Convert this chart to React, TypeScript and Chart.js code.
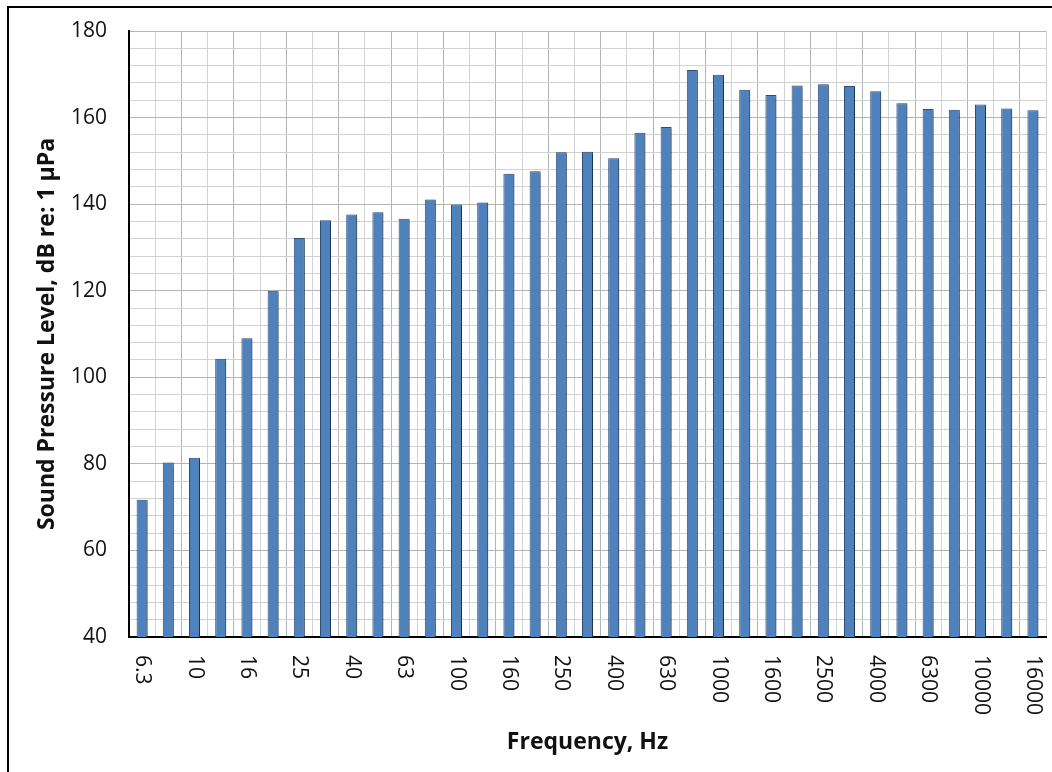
import React, { useEffect, useRef } from "react";
import { Chart, registerables } from "chart.js";

Chart.register(...registerables);

const frequencies = [
  "6.3", "8", "10", "12.5", "16", "20", "25", "31.5", "40", "50", "63", "80",
  "100", "125", "160", "200", "250", "315", "400", "500", "630", "800",
  "1000", "1250", "1600", "2000", "2500", "3150", "4000", "5000", "6300",
  "8000", "10000", "12500", "16000",
];

const splLevels = [
  71.7, 80.3, 81.4, 104.3, 109.0, 120.0, 132.2, 136.3, 137.6, 138.1, 136.6,
  141.1, 139.9, 140.4, 147.0, 147.6, 152.0, 152.1, 150.6, 156.5, 157.8, 171.0,
  169.9, 166.4, 165.2, 167.4, 167.7, 167.3, 166.1, 163.3, 162.0, 161.8, 163.0,
  162.1, 161.7,
];

const yMin = 40;
const yMax = 180;
const yStep = 4;
const yLabelStep = 20;

const xTitle = "Frequency, Hz";
const yTitle = "Sound Pressure Level, dB re: 1 µPa";

const FONT = "'Open Sans', 'Liberation Sans', sans-serif";

const shadowPlugin = {
  id: "barShadow",
  beforeDatasetsDraw(chart: any) {
    const ctx = chart.ctx;
    ctx.save();
    ctx.shadowColor = "rgba(0,0,0,0.35)";
    ctx.shadowOffsetX = 2;
    ctx.shadowOffsetY = 1;
    ctx.shadowBlur = 2;
  },
  afterDatasetsDraw(chart: any) {
    chart.ctx.restore();
  },
};

const textPlugin = {
  id: "customText",
  afterDraw(chart: any) {
    const ctx = chart.ctx;
    const xs = chart.scales.x;
    const area = chart.chartArea;
    ctx.save();
    ctx.fillStyle = "#111";
    ctx.font = `21px ${FONT}`;
    ctx.textAlign = "left";
    ctx.textBaseline = "middle";
    frequencies.forEach((lab, i) => {
      if (i % 2 !== 0) return;
      const x = xs.getPixelForValue(i);
      ctx.save();
      ctx.translate(x, area.bottom + 18);
      ctx.rotate(Math.PI / 2);
      ctx.fillText(lab, 0, 0);
      ctx.restore();
    });
    ctx.font = `bold 23px ${FONT}`;
    ctx.textAlign = "center";
    ctx.textBaseline = "middle";
    ctx.fillText(xTitle, (area.left + area.right) / 2, 734);
    ctx.save();
    ctx.translate(38, (area.top + area.bottom) / 2);
    ctx.rotate(-Math.PI / 2);
    ctx.fillText(yTitle, 0, 0);
    ctx.restore();
    ctx.restore();
  },
};

export default function App() {
  const ref = useRef<HTMLCanvasElement | null>(null);

  useEffect(() => {
    if (!ref.current) return;
    const chart = new Chart(ref.current, {
      type: "bar",
      data: {
        labels: frequencies,
        datasets: [
          {
            data: splLevels,
            backgroundColor: "#4F81BD",
            borderColor: "#2F4F78",
            borderWidth: 1,
            barPercentage: 0.42,
            categoryPercentage: 1.0,
          },
        ],
      },
      options: {
        responsive: false,
        animation: false,
        devicePixelRatio: 1,
        layout: { padding: { top: 23, right: 6, left: 0, bottom: 0 } },
        plugins: {
          legend: { display: false },
          tooltip: { enabled: false },
          title: { display: false },
        },
        scales: {
          x: {
            offset: true,
            ticks: { display: false, autoSkip: false },
            grid: {
              offset: true,
              drawTicks: false,
              color: (c: any) => (c.index % 2 === 0 ? "#b4b4b4" : "#d2d2d2"),
              lineWidth: 1,
            },
            border: { display: true, color: "#000", width: 2 },
            afterFit: (s: any) => {
              s.height = 135;
              s.paddingLeft = 0;
              s.paddingRight = 0;
            },
          },
          y: {
            min: yMin,
            max: yMax,
            ticks: {
              stepSize: yStep,
              autoSkip: false,
              padding: 22,
              color: "#111",
              font: { family: FONT, size: 21 },
              callback: (v: any) => (Number(v) % yLabelStep === 0 ? String(v) : ""),
            },
            grid: {
              drawTicks: false,
              color: (c: any) =>
                c.tick && Number(c.tick.value) % yLabelStep === 0 ? "#b4b4b4" : "#d2d2d2",
              lineWidth: 1,
            },
            border: { display: true, color: "#000", width: 2 },
            afterFit: (s: any) => {
              s.width = 120;
              s.paddingTop = 0;
              s.paddingBottom = 0;
            },
          },
        },
      },
      plugins: [shadowPlugin, textPlugin],
    });
    return () => chart.destroy();
  }, []);

  return (
    <div
      style={{
        position: "absolute",
        left: 7,
        top: 6,
        width: 1045,
        height: 766,
        borderLeft: "2px solid #000",
        borderTop: "2px solid #000",
        boxSizing: "border-box",
        background: "#fff",
      }}
    >
      <canvas
        ref={ref}
        width={1043}
        height={764}
        style={{ display: "block", width: 1043, height: 764 }}
      />
    </div>
  );
}
